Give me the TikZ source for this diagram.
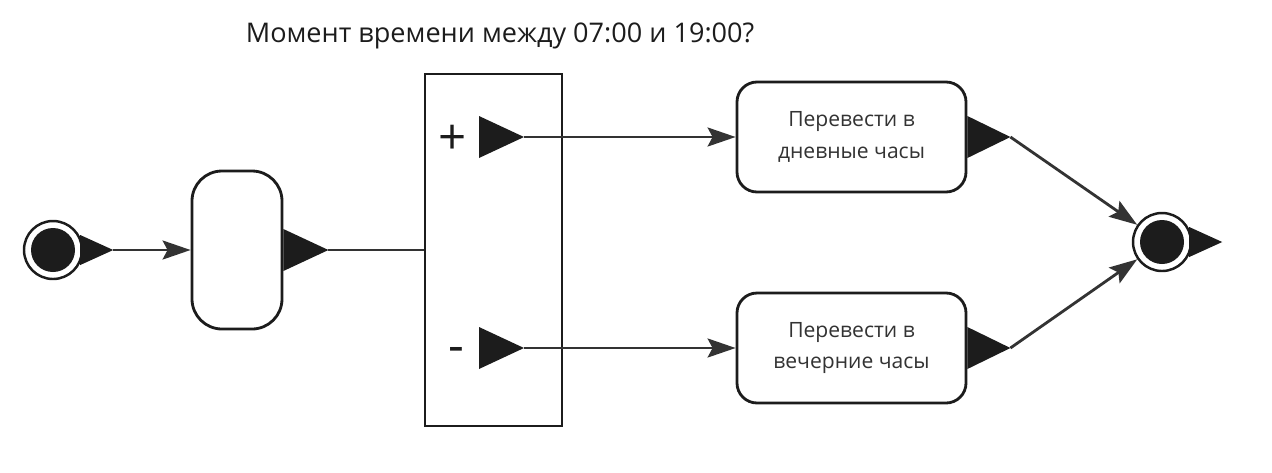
\documentclass[tikz,border=0pt]{standalone}
\usepackage{fontspec}
\setmainfont{Open Sans}
\usetikzlibrary{arrows.meta,positioning,calc}
\definecolor{ink}{HTML}{1C1C1C}
\definecolor{wire}{HTML}{333333}
\tikzset{act/.style={draw=ink,line width=1.6pt,rounded corners=4mm,align=center,fill=white,inner sep=0pt,minimum width=45.8mm,minimum height=22mm,text=wire,font=\fontsize{12}{18}\selectfont},arrow/.style={-{Stealth[length=5.6mm,width=3.8mm,inset=1mm]},line width=1.6pt,draw=wire},pin/.style={fill=ink},sign/.style={font=\fontsize{28}{30}\selectfont,text=ink,inner sep=0pt},dot/.style={circle,inner sep=0pt}}

\begin{document}
\begin{tikzpicture}[x=0.2mm,y=-0.2mm]
\useasboundingbox (0,0) rectangle (1272,472);
\node[font=\fontsize{15.4}{19}\selectfont,text=ink,anchor=base] (title) at (500,42) {Момент времени между 07:00 и 19:00?};
% start and end
\node[dot,draw=ink,line width=1.4pt,fill=white,minimum size=11.6mm] (start) at (53,250) {};
\node[dot,fill=ink,minimum size=8.8mm] (startdot) at (start) {};
\fill[pin] (start.east) ++(-3,-15) -- ++(33,15) coordinate (startout) -- ++(-33,15) -- cycle;
\node[dot,draw=ink,line width=1.4pt,fill=white,minimum size=11.6mm] (end) at (1162,242) {};
\node[dot,fill=ink,minimum size=8.8mm] (enddot) at (end) {};
\fill[pin] (end.east) ++(-3,-15) -- ++(33,15) -- ++(-33,15) -- cycle;
% actions
\node[act,minimum width=18mm,minimum height=31.6mm,rounded corners=6mm] (prep) at (237,250) {};
\fill[pin] (prep.east) ++(0,-21) -- ++(45,21) coordinate (prepout) -- ++(-45,21) -- cycle;
\node[draw=ink,line width=1.6pt,minimum width=27.4mm,minimum height=70.4mm] (choice) at (493.5,250) {};
\node[sign] (plus) at (453,140) {+};
\node[sign] (minus) at (456,355) {-};
\fill[pin] (479,116) -- (524,137) coordinate (yes) -- (479,158) -- cycle;
\fill[pin] (479,327) -- (524,348) coordinate (no) -- (479,369) -- cycle;
\node[act] (day) at (851.5,137) {Перевести в\\дневные часы};
\node[act] (night) at (851.5,348) {Перевести в\\вечерние часы};
\fill[pin] (day.east) ++(0,-21) -- ++(43,21) coordinate (dayout) -- ++(-43,21) -- cycle;
\fill[pin] (night.east) ++(0,-21) -- ++(43,21) coordinate (nightout) -- ++(-43,21) -- cycle;
% flows
\draw[arrow] (startout) -- (prep);
\draw[line width=1.6pt,draw=wire] (prepout) -- (choice);
\draw[arrow] (yes) -- (day);\draw[arrow] (no) -- (night);
\draw[arrow] (dayout) -- (end);\draw[arrow] (nightout) -- (end);
\end{tikzpicture}
\end{document}
